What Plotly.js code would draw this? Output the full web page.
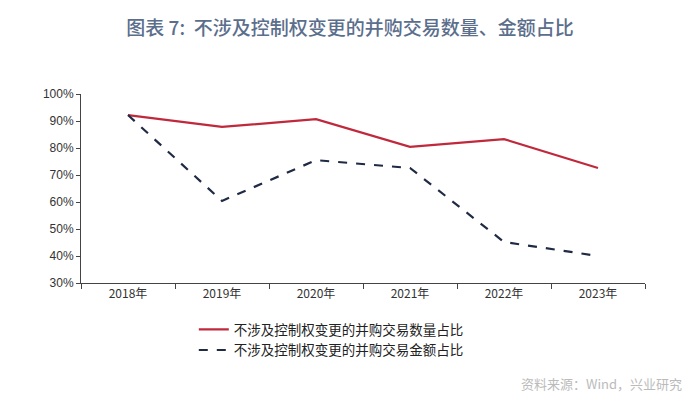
<!DOCTYPE html>
<html><head><meta charset="utf-8">
<script src="https://cdn.plot.ly/plotly-3.0.1.min.js"></script>
<style>html,body{margin:0;padding:0;background:#fff;}#chart{width:700px;height:400px;}</style>
</head><body><div id="chart"></div>
<script>
const years = ["2018年","2019年","2020年","2021年","2022年","2023年"];
const countShare = [92.2, 87.8, 90.7, 80.4, 83.3, 72.6];
const amountShare = [92.2, 60.4, 75.5, 72.6, 45.2, 40.0];
const seriesNames = ["不涉及控制权变更的并购交易数量占比","不涉及控制权变更的并购交易金额占比"];

const traces = [
  {x: years, y: countShare, name: seriesNames[0], type: "scatter", mode: "lines",
   line: {color: "#C0283C", width: 2.2}},
  {x: years, y: amountShare, name: seriesNames[1], type: "scatter", mode: "lines",
   line: {color: "#1F2A44", width: 2.2, dash: "dash"}}
];
const layout = {
  width: 700, height: 400,
  margin: {l: 81, r: 55, t: 94, b: 117},
  paper_bgcolor: "#fff", plot_bgcolor: "#fff",
  title: {text: "图表 7:  不涉及控制权变更的并购交易数量、金额占比", x: 0.5, xanchor: "center", y: 0.945,
          font: {family: "Noto Sans CJK SC", size: 19, color: "#5B6E8C", weight: 500}},
  xaxis: {type: "category", range: [-0.5, 5.5], tickson: "boundaries", ticks: "outside", ticklen: 5,
          showline: true, linecolor: "#444", linewidth: 1, tickcolor: "#444", showgrid: false,
          tickfont: {family: "Noto Sans CJK SC", size: 12, color: "#333"}, fixedrange: true},
  yaxis: {range: [30, 100], dtick: 10, ticksuffix: "%", ticks: "outside", ticklen: 4,
          showline: true, linecolor: "#444", linewidth: 1, tickcolor: "#444", showgrid: false, zeroline: false,
          tickfont: {family: "Liberation Sans", size: 12, color: "#333"}},
  showlegend: true,
  legend: {x: 0.2, y: -0.165, xanchor: "left", yanchor: "top", orientation: "v",
           font: {family: "Noto Sans CJK SC", size: 13.5, color: "#222"}, tracegroupgap: 2},
  annotations: [{text: "资料来源：Wind，兴业研究", xref: "paper", yref: "paper", x: 1.07, y: -0.53,
                 xanchor: "right", yanchor: "middle", showarrow: false,
                 font: {family: "Noto Sans CJK SC", size: 13, color: "#bbb"}}]
};
Plotly.newPlot("chart", traces, layout, {displayModeBar: false, staticPlot: true});
</script></body></html>
